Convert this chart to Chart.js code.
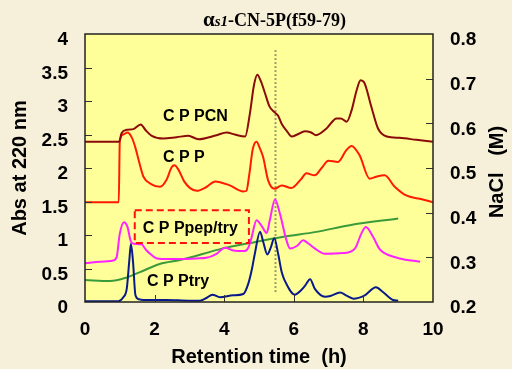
<!DOCTYPE html>
<html>
<head>
<meta charset="utf-8">
<script src="https://cdn.jsdelivr.net/npm/chart.js@4.4.0/dist/chart.umd.min.js"></script>
<style>
  html, body { margin: 0; padding: 0; background: #f6efd9; }
  #wrap { width: 512px; height: 369px; }
</style>
</head>
<body>
<div id="wrap"><canvas id="myChart" width="512" height="369"></canvas></div>
<script>
// retention time (h) and absorbance at 220 nm
var cppcnX = [0, 0.98, 1.05, 1.2, 1.39, 1.6, 1.75, 1.92, 2.25, 2.63, 2.97, 3.26, 3.78, 4.07, 4.3, 4.6, 4.74, 4.85, 4.95, 5.05, 5.17, 5.3, 5.45, 5.55, 5.65, 5.8, 5.94, 6.1, 6.32, 6.5, 6.64, 6.94, 7.23, 7.35, 7.52, 7.66, 7.8, 7.92, 8.02, 8.23, 8.42, 8.67, 9.04, 9.52, 10];
var cppcnY = [2.39, 2.39, 2.52, 2.57, 2.58, 2.65, 2.56, 2.48, 2.44, 2.46, 2.48, 2.43, 2.49, 2.53, 2.5, 2.47, 2.82, 3.22, 3.39, 3.3, 3.12, 2.92, 2.83, 2.78, 2.66, 2.55, 2.47, 2.5, 2.55, 2.53, 2.49, 2.59, 2.74, 2.74, 2.69, 2.86, 3.15, 3.31, 3.28, 2.91, 2.59, 2.47, 2.45, 2.42, 2.39];

var cppX = [0, 0.97, 1.0, 1.1, 1.22, 1.35, 1.45, 1.55, 1.68, 1.9, 2.16, 2.34, 2.49, 2.57, 2.68, 2.85, 3.02, 3.21, 3.5, 3.74, 4.16, 4.55, 4.64, 4.72, 4.82, 4.93, 5.02, 5.12, 5.26, 5.45, 5.65, 5.93, 6.22, 6.36, 6.6, 6.8, 6.99, 7.27, 7.5, 7.66, 7.89, 8.18, 8.37, 8.61, 8.9, 9.23, 9.62, 10];
var cppY = [1.49, 1.49, 2.4, 2.5, 2.53, 2.45, 2.3, 2.1, 1.87, 1.76, 1.72, 1.82, 2.01, 2.04, 1.98, 1.8, 1.7, 1.66, 1.72, 1.8, 1.74, 1.65, 1.66, 1.9, 2.28, 2.39, 2.3, 2.16, 1.82, 1.69, 1.74, 1.7, 1.84, 1.92, 1.89, 2.0, 2.11, 2.09, 2.26, 2.33, 2.19, 1.84, 1.87, 1.89, 1.72, 1.59, 1.54, 1.49];

var pepX = [0, 0.43, 0.81, 0.91, 1.0, 1.12, 1.22, 1.32, 1.4, 1.63, 1.75, 1.87, 2.06, 2.4, 2.82, 3.2, 3.49, 3.78, 4.02, 4.26, 4.59, 4.7, 4.78, 4.93, 5.07, 5.22, 5.31, 5.46, 5.6, 5.79, 5.89, 6.1, 6.27, 6.4, 6.6, 6.9, 7.42, 7.76, 7.94, 8.07, 8.28, 8.45, 8.57, 9.04, 9.63];
var pepY = [0.58, 0.6, 0.62, 0.67, 1.02, 1.19, 1.12, 0.9, 0.87, 0.86, 0.78, 0.72, 0.65, 0.64, 0.64, 0.65, 0.66, 0.72, 0.81, 0.77, 0.76, 0.82, 0.95, 1.22, 1.14, 1.03, 1.22, 1.53, 1.32, 0.92, 0.8, 0.84, 0.92, 0.88, 0.8, 0.72, 0.73, 0.8, 1.02, 1.12, 0.97, 0.8, 0.74, 0.65, 0.6];

var tryX = [0, 0.96, 1.1, 1.2, 1.27, 1.32, 1.38, 1.45, 1.55, 1.67, 2.34, 3.0, 3.3, 3.49, 3.66, 3.88, 4.26, 4.55, 4.69, 4.8, 4.88, 5.03, 5.12, 5.24, 5.33, 5.44, 5.55, 5.65, 5.74, 6.03, 6.2, 6.32, 6.47, 6.6, 6.9, 7.05, 7.33, 7.5, 7.71, 8.04, 8.36, 8.56, 8.85, 9.0];
var tryY = [0.01, 0.01, 0.07, 0.2, 0.6, 0.87, 0.6, 0.1, 0.04, 0.03, 0.03, 0.02, 0.02, 0.06, 0.11, 0.07, 0.1, 0.12, 0.27, 0.5, 0.72, 1.05, 0.9, 0.71, 0.8, 0.95, 0.72, 0.45, 0.32, 0.11, 0.17, 0.24, 0.34, 0.2, 0.08, 0.09, 0.14, 0.1, 0.05, 0.1, 0.22, 0.15, 0.03, 0.02];

// NaCl gradient (M), right axis
var naclX = [0, 0.72, 1.2, 1.58, 2.15, 2.73, 3.97, 4.74, 5.7, 6.65, 7.61, 9.0];
var naclY = [0.249, 0.247, 0.255, 0.267, 0.285, 0.294, 0.32, 0.332, 0.346, 0.357, 0.372, 0.387];

var seriesLabels = ['C P PCN', 'C P P', 'C P Ppep/try', 'C P Ptry'];

function pts(xs, ys) {
  return xs.map(function(x, i) { return { x: x, y: ys[i] }; });
}

var sans = "'Liberation Sans', Arial, sans-serif";
var serif = "'Liberation Serif', 'Times New Roman', serif";

var chromPlugin = {
  id: 'chrom',
  beforeDraw: function(chart) {
    var c = chart.ctx, a = chart.chartArea;
    c.save();
    c.fillStyle = '#ffff99';
    c.fillRect(a.left, a.top, a.right - a.left, a.bottom - a.top);
    c.restore();
  },
  beforeDatasetsDraw: function(chart) {
    // dotted marker line at ~5.45 h
    var c = chart.ctx, xs = chart.scales.x, ys = chart.scales.y;
    var px = Math.round(xs.getPixelForValue(5.45)) + 0.5;
    c.save();
    c.strokeStyle = '#9a9a6a';
    c.lineWidth = 2;
    c.setLineDash([2, 2]);
    c.beginPath();
    c.moveTo(px, ys.getPixelForValue(3.76));
    c.lineTo(px, ys.getPixelForValue(0.12));
    c.stroke();
    c.restore();
  },
  afterDatasetsDraw: function(chart) {
    var c = chart.ctx, xs = chart.scales.x, ys = chart.scales.y;
    var spots = [[2.24, 2.76], [2.24, 2.15], [1.66, 1.09], [1.78, 0.31]];
    c.save();
    c.fillStyle = '#000';
    c.font = 'bold 16px ' + sans;
    c.textBaseline = 'middle';
    seriesLabels.forEach(function(t, i) {
      c.fillText(t, xs.getPixelForValue(spots[i][0]), ys.getPixelForValue(spots[i][1]));
    });
    // dashed box round the pep/try label
    var x0 = xs.getPixelForValue(1.43), x1 = xs.getPixelForValue(4.71);
    var y0 = ys.getPixelForValue(1.37), y1 = ys.getPixelForValue(0.88);
    c.strokeStyle = '#ff1010';
    c.lineWidth = 2;
    c.setLineDash([7, 4]);
    c.strokeRect(x0, y0, x1 - x0, y1 - y0);
    c.restore();
  },
  afterDraw: function(chart) {
    var c = chart.ctx, a = chart.chartArea;
    var xs = chart.scales.x, ys = chart.scales.y, y2 = chart.scales.y2;
    c.save();
    // inward tick marks
    c.strokeStyle = '#333';
    c.lineWidth = 1;
    c.beginPath();
    ys.ticks.forEach(function(t) {
      if (t.value <= 0 || t.value >= 4) return;
      var p = Math.round(ys.getPixelForValue(t.value)) + 0.5;
      c.moveTo(a.left, p); c.lineTo(a.left + 7, p);
    });
    y2.ticks.forEach(function(t) {
      if (t.value <= 0.2001 || t.value >= 0.7999) return;
      var p = Math.round(y2.getPixelForValue(t.value)) + 0.5;
      c.moveTo(a.right, p); c.lineTo(a.right - 7, p);
    });
    xs.ticks.forEach(function(t) {
      if (t.value <= 0 || t.value >= 10) return;
      var p = Math.round(xs.getPixelForValue(t.value)) + 0.5;
      c.moveTo(p, a.bottom); c.lineTo(p, a.bottom - 7);
    });
    c.stroke();
    // frame
    c.strokeStyle = '#222';
    c.lineWidth = 1.5;
    c.strokeRect(a.left, a.top, a.right - a.left, a.bottom - a.top);

    // chart title with the italic s1
    c.fillStyle = '#000';
    c.textBaseline = 'alphabetic';
    var x = 203, base = 26;
    c.font = 'bold 21px ' + serif;
    c.fillText('α', x, base); x += c.measureText('α').width;
    c.font = 'italic bold 15px ' + serif;
    c.fillText('s1', x, base); x += c.measureText('s1').width;
    c.font = 'bold 18px ' + serif;
    c.fillText('-CN-5P(f59-79)', x, base);

    // right axis title, reading upwards
    c.font = 'bold 20px ' + sans;
    c.textAlign = 'center';
    c.textBaseline = 'middle';
    c.translate(497, 172);
    c.rotate(-Math.PI / 2);
    c.fillText('NaCl   (M)', 0, 0);
    c.restore();
  }
};

var tickFont = { family: sans, size: 19, weight: 'bold' };

var ctx = document.getElementById('myChart').getContext('2d');
var myChart = new Chart(ctx, {
  type: 'line',
  data: {
    datasets: [
      { label: 'CPPCN', data: pts(cppcnX, cppcnY), borderColor: '#8b0a0a', yAxisID: 'y' },
      { label: 'CPP', data: pts(cppX, cppY), borderColor: '#ff1a00', yAxisID: 'y' },
      { label: 'CPPpep/try', data: pts(pepX, pepY), borderColor: '#ff22ff', yAxisID: 'y' },
      { label: 'CPPtry', data: pts(tryX, tryY), borderColor: '#0a1a8a', yAxisID: 'y' },
      { label: 'NaCl', data: pts(naclX, naclY), borderColor: '#3a9a3a', yAxisID: 'y2' }
    ]
  },
  options: {
    responsive: false,
    animation: false,
    layout: { padding: { top: 34, left: 0, right: 0, bottom: 0 } },
    elements: {
      point: { radius: 0 },
      line: { borderWidth: 2, cubicInterpolationMode: 'monotone', fill: false }
    },
    plugins: {
      legend: { display: false },
      tooltip: { enabled: false },
      title: { display: false }
    },
    scales: {
      x: {
        type: 'linear', min: 0, max: 10,
        ticks: { stepSize: 2, padding: 16, color: '#000', font: tickFont },
        grid: { display: false, drawTicks: false },
        border: { display: false },
        title: { display: true, text: 'Retention time  (h)', color: '#000', font: { family: sans, size: 20, weight: 'bold' }, padding: { top: 0, bottom: 0 } },
        afterFit: function(s) { s.height = 67; }
      },
      y: {
        type: 'linear', position: 'left', min: 0, max: 4,
        ticks: { stepSize: 0.5, padding: 17, labelOffset: 6, color: '#000', font: tickFont,
          callback: function(v) { return String(v); } },
        grid: { display: false, drawTicks: false },
        border: { display: false },
        title: { display: true, text: 'Abs at 220 nm', color: '#000', font: { family: sans, size: 20, weight: 'bold' }, padding: { top: 8, bottom: 0 } },
        afterFit: function(s) { s.width = 85; }
      },
      y2: {
        type: 'linear', position: 'right', min: 0.2, max: 0.8,
        ticks: { stepSize: 0.1, padding: 17, labelOffset: 6, color: '#000', font: tickFont },
        grid: { display: false, drawTicks: false },
        border: { display: false },
        afterFit: function(s) { s.width = 79; }
      }
    }
  },
  plugins: [chromPlugin]
});
</script>
</body>
</html>
